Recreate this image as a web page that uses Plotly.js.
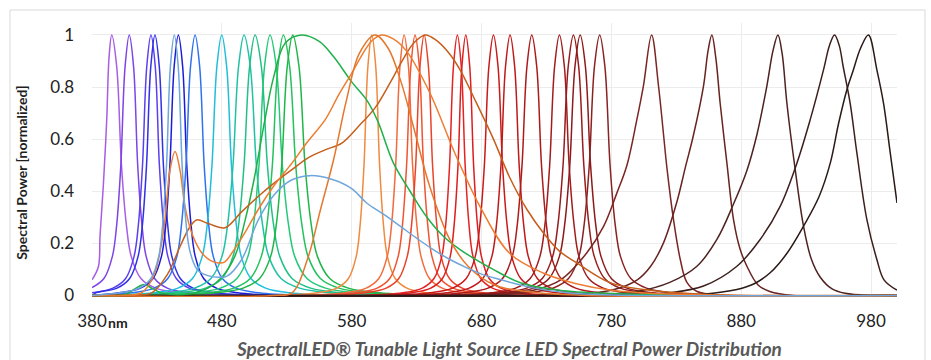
<!DOCTYPE html>
<html><head><meta charset="utf-8">
<script src="https://cdn.plot.ly/plotly-3.0.1.min.js"></script>
<style>html,body{margin:0;padding:0;background:#fff}#chart{width:931px;height:360px}</style>
</head><body><div id="chart"></div>
<script>
// ---------- data (wavelength nm, normalized spectral power) ----------
const tickWavelengths = [380, 480, 580, 680, 780, 880, 980];
const tickLabels = ['380', '480', '580', '680', '780', '880', '980'];
const powerTicks = [0, 0.2, 0.4, 0.6, 0.8, 1];
const powerLabels = ['0', '0.2', '0.4', '0.6', '0.8', '1'];

// common normalized narrow-band LED profile values
const ledY = [0, 0, 0.01, 0.028, 0.065, 0.15, 0.27, 0.5, 0.88, 1, 0.88, 0.5, 0.27, 0.15, 0.065, 0.028, 0.01, 0, 0];
const ledYb = [0, 0.01, 0.028, 0.065, 0.15, 0.27, 0.5, 0.88, 1, 0.88, 0.5, 0.27, 0.15, 0.065, 0.028, 0.01, 0, 0];

const v395x = [380, 384.9, 386.2, 388.7, 391.3, 393.2, 395.2, 399, 402.7, 406.5, 410.2, 417.7, 429, 447.7, 485, 1000];
const v395y = [0.06, 0.11, 0.23, 0.42, 0.67, 0.92, 1, 0.88, 0.5, 0.27, 0.15, 0.065, 0.028, 0.01, 0, 0];
const p409x = [380, 389.2, 395.7, 399, 402.2, 405.5, 408.7, 412, 415.2, 418.5, 421.7, 428.2, 438, 454.2, 486.7, 1000];
const p409y = [0.03, 0.065, 0.15, 0.27, 0.5, 0.88, 1, 0.88, 0.5, 0.27, 0.15, 0.065, 0.028, 0.01, 0, 0];
const b425x = [380, 396.1, 405.9, 412.4, 415.7, 418.9, 422.2, 425.4, 428.7, 431.9, 435.2, 438.4, 444.9, 454.7, 470.9, 503.4, 1000];
const b425y = [0.01, 0.028, 0.065, 0.15, 0.27, 0.5, 0.88, 1, 0.88, 0.5, 0.27, 0.15, 0.065, 0.028, 0.01, 0, 0];
const b428x = [380, 383, 399.3, 409, 415.5, 418.8, 422, 425.3, 428.5, 431.8, 435, 438.3, 441.5, 448, 457.8, 474, 506.5, 1000];
const b446x = [380, 401, 417.3, 427, 433.5, 436.8, 440, 443.3, 446.5, 449.8, 453, 456.3, 459.5, 466, 475.8, 492, 524.5, 1000];
const b459x = [380, 410.4, 427.9, 438.4, 445.4, 448.9, 452.4, 455.9, 459.4, 462.9, 466.4, 469.9, 473.4, 480.4, 490.9, 508.4, 543.4, 1000];
const c480x = [380, 389.9, 427.4, 446.2, 457.4, 464.9, 468.7, 472.4, 476.2, 479.9, 483.7, 487.4, 491.2, 494.9, 502.4, 513.7, 532.4, 569.9, 1000];
const g497x = [380, 395.1, 437.6, 458.9, 471.6, 480.1, 484.4, 488.6, 492.9, 497.1, 501.9, 506.6, 511.4, 516.1, 525.6, 539.9, 563.6, 611.1, 1000];
const g506x = [380, 403.6, 446.1, 467.4, 480.1, 488.6, 492.9, 497.1, 501.4, 505.6, 510.4, 515.1, 519.9, 524.6, 534.1, 548.4, 572.1, 619.6, 1000];
const g517x = [380, 415.1, 457.6, 478.9, 491.6, 500.1, 504.4, 508.6, 512.9, 517.1, 521.9, 526.6, 531.4, 536.1, 545.6, 559.9, 583.6, 631.1, 1000];
const g527x = [380, 425.4, 467.9, 489.2, 501.9, 510.4, 514.7, 518.9, 523.2, 527.4, 532.2, 536.9, 541.7, 546.4, 555.9, 570.2, 593.9, 641.4, 1000];
const g535x = [380, 432.6, 475.1, 496.4, 509.1, 517.6, 521.9, 526.1, 530.4, 534.6, 539.4, 544.1, 548.9, 553.6, 563.1, 577.4, 601.1, 648.6, 1000];
const a595x = [380, 523.5, 553.5, 568.5, 577.5, 583.5, 586.5, 589.5, 592.5, 595.5, 598.5, 601.5, 604.5, 607.5, 613.5, 622.5, 637.5, 667.5, 1000];
const r620x = [380, 542.4, 574.9, 591.2, 600.9, 607.4, 610.7, 613.9, 617.2, 620.4, 623.7, 626.9, 630.2, 633.4, 639.9, 649.7, 665.9, 698.4, 1000];
const r629x = [380, 550.8, 583.3, 599.6, 609.3, 615.8, 619.1, 622.3, 625.6, 628.8, 632.1, 635.3, 638.6, 641.8, 648.3, 658.1, 674.3, 706.8, 1000];
const r636x = [380, 557.8, 590.3, 606.6, 616.3, 622.8, 626.1, 629.3, 632.6, 635.8, 639.1, 642.3, 645.6, 648.8, 655.3, 665.1, 681.3, 713.8, 1000];
const r661x = [380, 589.4, 619.4, 634.4, 643.4, 649.4, 652.4, 655.4, 658.4, 661.4, 664.4, 667.4, 670.4, 673.4, 679.4, 688.4, 703.4, 733.4, 1000];
const r668x = [380, 595.9, 625.9, 640.9, 649.9, 655.9, 658.9, 661.9, 664.9, 667.9, 670.9, 673.9, 676.9, 679.9, 685.9, 694.9, 709.9, 739.9, 1000];
const r689x = [380, 605.2, 640.2, 657.7, 668.2, 675.2, 678.7, 682.2, 685.7, 689.2, 692.7, 696.2, 699.7, 703.2, 710.2, 720.7, 738.2, 773.2, 1000];
const r702x = [380, 618, 653, 670.5, 681, 688, 691.5, 695, 698.5, 702, 705.5, 709, 712.5, 716, 723, 733.5, 751, 786, 1000];
const r719x = [380, 628.7, 666.2, 685, 696.2, 703.7, 707.5, 711.2, 715, 718.7, 722.5, 726.2, 730, 733.7, 741.2, 752.5, 771.2, 808.7, 1000];
const r740x = [380, 650, 687.5, 706.3, 717.5, 725, 728.8, 732.5, 736.3, 740, 743.8, 747.5, 751.3, 755, 762.5, 773.8, 792.5, 830, 1000];
const r751x = [380, 654.8, 694.8, 714.8, 726.8, 734.8, 738.8, 742.8, 746.8, 750.8, 754.8, 758.8, 762.8, 766.8, 774.8, 786.8, 806.8, 846.8, 1000];
const r756x = [380, 660, 700, 720, 732, 740, 744, 748, 752, 756, 760, 764, 768, 772, 780, 792, 812, 852, 1000];
const r771x = [380, 675, 715, 735, 747, 755, 759, 763, 767, 771, 775, 779, 783, 787, 795, 807, 827, 867, 1000];
const ir811x = [380, 690, 720, 741, 761, 774, 784, 792, 799.6, 804.7, 811, 816.3, 820.2, 822.8, 827.9, 833, 838.2, 846, 865, 1000];
const ir811y = [0, 0.004, 0.02, 0.06, 0.163, 0.265, 0.39, 0.5, 0.674, 0.805, 1, 0.805, 0.617, 0.49, 0.29, 0.14, 0.05, 0.015, 0, 0];
const ir857x = [380, 720, 750, 780, 800, 810, 820, 830.5, 836.9, 843.3, 851, 854.5, 857.4, 860.5, 863.8, 869, 874.1, 879, 884.4, 893, 902, 920, 1000];
const ir857y = [0, 0, 0.005, 0.02, 0.06, 0.11, 0.2, 0.36, 0.49, 0.617, 0.805, 0.94, 1, 0.91, 0.738, 0.508, 0.291, 0.18, 0.112, 0.04, 0.015, 0, 0];
const ir908x = [380, 740, 770, 800, 825, 845.9, 861.3, 874, 884.4, 892.1, 899.8, 904.5, 908.3, 911.5, 915.2, 921.6, 928, 934, 940.9, 950, 960, 980, 1000];
const ir908y = [0, 0, 0.003, 0.015, 0.05, 0.112, 0.215, 0.35, 0.48, 0.617, 0.805, 0.94, 1, 0.93, 0.738, 0.483, 0.266, 0.14, 0.07, 0.025, 0.008, 0, 0];
const ir952x = [380, 770, 800, 825, 851, 876.7, 894.6, 910, 922.9, 933.1, 943.4, 948, 951.9, 955.5, 958.5, 963.9, 969.1, 976.8, 984.5, 990, 1000];
const ir952y = [0, 0, 0.002, 0.01, 0.036, 0.112, 0.215, 0.342, 0.508, 0.674, 0.866, 0.96, 1, 0.96, 0.88, 0.738, 0.547, 0.291, 0.138, 0.06, 0.02];
const ir978x = [380, 820, 850, 876.7, 890, 902.3, 915, 928, 940, 948.6, 955, 961.4, 966, 972, 978, 984.5, 989.6, 994.8, 1000];
const ir978y = [0, 0, 0.005, 0.023, 0.045, 0.087, 0.16, 0.266, 0.38, 0.508, 0.66, 0.79, 0.86, 0.95, 1, 0.866, 0.738, 0.547, 0.355];

// broadband (phosphor-converted) sources
const pcGreenX = [380, 405, 413, 420, 427, 435, 455, 470, 480, 490, 498, 505, 513, 520, 529, 541.6, 555, 566, 580, 591.6, 600, 612, 625, 638, 650, 663.5, 689, 710, 740, 780, 850, 1000];
const pcGreenY = [0, 0.003, 0.025, 0.042, 0.025, 0.008, 0.006, 0.03, 0.07, 0.15, 0.29, 0.45, 0.67, 0.84, 0.97, 1, 0.975, 0.917, 0.82, 0.75, 0.67, 0.51, 0.4, 0.3, 0.23, 0.176, 0.1, 0.049, 0.02, 0.007, 0, 0];
const warmWhiteX = [380, 415, 426, 438, 448, 455, 460.6, 470, 482.5, 495, 508, 520, 534, 547, 559.5, 572.4, 585.2, 598, 610, 620, 628, 636.6, 645, 655, 663.5, 676, 689.2, 702, 715, 727.7, 740, 753.4, 779, 805, 850, 1000];
const warmWhiteY = [0, 0.002, 0.01, 0.08, 0.19, 0.26, 0.29, 0.275, 0.26, 0.32, 0.38, 0.43, 0.483, 0.53, 0.559, 0.585, 0.649, 0.72, 0.82, 0.91, 0.97, 1, 0.98, 0.93, 0.866, 0.74, 0.6, 0.45, 0.33, 0.24, 0.17, 0.125, 0.049, 0.023, 0.005, 0];
const neutralWhiteX = [380, 410, 418, 423, 428.5, 432.5, 436.2, 440, 444, 447.8, 451.6, 456.8, 464.5, 471, 477.3, 482, 490, 500, 508, 520, 534, 546, 559.5, 570, 580, 590, 596, 603, 612, 622, 640, 660, 680, 702, 728, 753, 780, 820, 870, 1000];
const neutralWhiteY = [0, 0.002, 0.01, 0.035, 0.087, 0.17, 0.29, 0.48, 0.553, 0.48, 0.342, 0.24, 0.164, 0.135, 0.125, 0.128, 0.18, 0.26, 0.33, 0.42, 0.508, 0.59, 0.674, 0.77, 0.853, 0.94, 0.98, 1, 0.985, 0.94, 0.78, 0.54, 0.33, 0.16, 0.085, 0.045, 0.02, 0.006, 0, 0];
const pcAmberX = [380, 520, 534, 546, 556, 566, 576, 586, 598, 608, 618, 628, 640, 655, 670, 690, 720, 760, 1000];
const pcAmberY = [0, 0, 0.01, 0.14, 0.33, 0.52, 0.75, 0.93, 1, 0.95, 0.82, 0.64, 0.42, 0.22, 0.11, 0.04, 0.012, 0, 0];
const coolWhiteX = [380, 401.4, 416.4, 425.4, 431.4, 434.4, 437.4, 440.4, 443.4, 446.4, 449.4, 452.4, 455.4, 461, 470, 478, 484, 495.3, 508.1, 521, 534, 548, 565.7, 580, 591.6, 605, 617.3, 630, 642.8, 655, 668.7, 681, 694.3, 707, 719.8, 745.7, 780, 1000];
const coolWhiteY = [0, 0.01, 0.028, 0.065, 0.15, 0.27, 0.5, 0.88, 1, 0.88, 0.5, 0.28, 0.17, 0.1, 0.075, 0.07, 0.074, 0.138, 0.29, 0.39, 0.444, 0.46, 0.444, 0.41, 0.355, 0.31, 0.266, 0.22, 0.176, 0.14, 0.106, 0.08, 0.061, 0.044, 0.029, 0.01, 0.002, 0];

// ---------- series list (data + colour) ----------
const series = [
  [v395x, v395y, '#a65ee6'], [p409x, p409y, '#7d44e6'], [b425x, b425y, '#5b40ee'],
  [b428x, ledYb, '#3030e6'], [b446x, ledYb, '#1c1cd8'], [b459x, ledYb, '#2f72ee'],
  [c480x, ledY, '#20bedc'], [g497x, ledY, '#1fc2a6'], [g506x, ledY, '#22bf86'],
  [g517x, ledY, '#25c878'], [g527x, ledY, '#22c25c'], [g535x, ledY, '#1fb648'],
  [a595x, ledY, '#f08a3e'], [r620x, ledY, '#f26b3c'], [r629x, ledY, '#ee5530'],
  [r636x, ledY, '#e8442a'], [r661x, ledY, '#e42222'], [r668x, ledY, '#dc1e1e'],
  [r689x, ledY, '#c91a1a'], [r702x, ledY, '#bf1a1a'], [r719x, ledY, '#ad1a1a'],
  [r740x, ledY, '#a11c1c'], [r751x, ledY, '#971c1c'], [r756x, ledY, '#8d1a1a'],
  [r771x, ledY, '#8a2222'], [ir811x, ir811y, '#7a2622'], [ir857x, ir857y, '#682420'],
  [ir908x, ir908y, '#4e221f'], [ir952x, ir952y, '#3c1f1d'], [ir978x, ir978y, '#2a1a18'],
  [pcGreenX, pcGreenY, '#20b04a'], [warmWhiteX, warmWhiteY, '#c55f1c'],
  [neutralWhiteX, neutralWhiteY, '#ed7d31'], [pcAmberX, pcAmberY, '#e5772c'],
  [coolWhiteX, coolWhiteY, '#6fa6dc']
];

const traces = series.map(s => ({
  type: 'scatter', mode: 'lines', x: s[0], y: s[1],
  line: {color: s[2], width: 1.5, shape: 'spline', smoothing: 1},
  hoverinfo: 'skip'
}));

const font = 'Lato, "Open Sans", sans-serif';
const layout = {
  width: 931, height: 360,
  margin: {l: 92, r: 34, t: 23, b: 62.5, pad: 0},
  paper_bgcolor: '#ffffff', plot_bgcolor: '#ffffff',
  showlegend: false,
  xaxis: {
    range: [380, 1000], tickmode: 'array', tickvals: tickWavelengths, ticktext: tickLabels,
    showgrid: true, gridcolor: '#ececec', gridwidth: 1, zeroline: false, showline: false,
    ticks: '', ticklabelstandoff: 12,
    tickfont: {family: font, size: 17, color: '#222222'}, fixedrange: true
  },
  yaxis: {
    range: [-0.006, 1.046], tickmode: 'array', tickvals: powerTicks, ticktext: powerLabels,
    showgrid: true, gridcolor: '#ececec', gridwidth: 1, zeroline: false, showline: false,
    ticks: '', ticklabelstandoff: 17,
    tickfont: {family: font, size: 17, color: '#222222'}, fixedrange: true
  },
  shapes: [{
    type: 'rect', xref: 'paper', yref: 'paper',
    x0: -0.1019, x1: 1.0348, y0: -0.35, y1: 1.0474,
    line: {color: '#d9d9d9', width: 1}, fillcolor: 'rgba(0,0,0,0)', layer: 'above'
  }],
  annotations: [
    {text: 'nm', xref: 'x', x: 380, yref: 'paper', y: -0.093, xanchor: 'left', yanchor: 'middle',
     xshift: 14, showarrow: false, font: {family: font, size: 14, color: '#222222', weight: 'bold'}},
    {text: 'Spectral Power [normalized]', xref: 'paper', x: -0.087, yref: 'paper', y: 0.4536,
     xanchor: 'center', yanchor: 'middle', textangle: -90, showarrow: false,
     font: {family: font, size: 14, color: '#1f1f1f', weight: 'bold'}},
    {text: 'SpectralLED® Tunable Light Source LED Spectral Power Distribution', xref: 'paper', x: 0.5174,
     yref: 'paper', y: -0.187, xanchor: 'center', yanchor: 'middle', showarrow: false,
     font: {family: font, size: 19, color: '#595959', weight: 'bold', style: 'italic'}}
  ]
};

Plotly.newPlot('chart', traces, layout, {staticPlot: true, displayModeBar: false});
</script>
</body></html>
